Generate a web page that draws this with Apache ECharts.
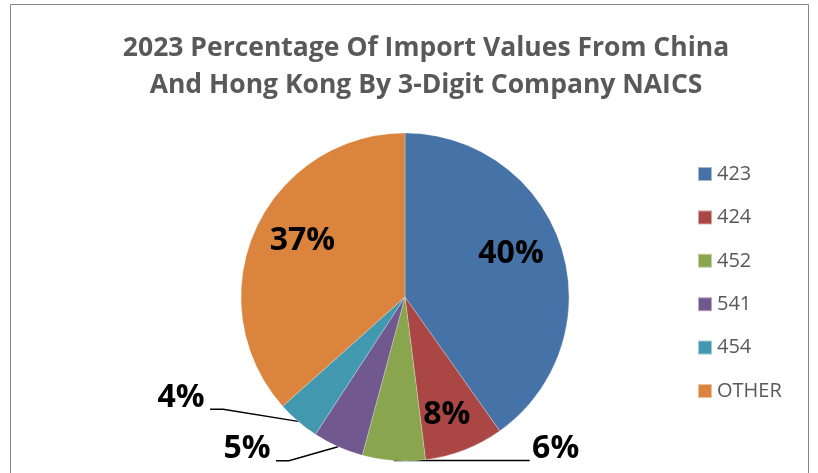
<!DOCTYPE html>
<html lang="en">
<head>
<meta charset="UTF-8" />
<script src="https://cdn.jsdelivr.net/npm/echarts@6/dist/echarts.min.js"></script>
<title>Import values by NAICS</title>
<style>
	html, body { margin: 0; padding: 0; background: #fff; }
	#main { width: 818px; height: 473px; }
</style>
</head>
<body>
<div id="main"></div>
<script type="text/javascript">
	const categories = ['423', '424', '452', '541', '454', 'OTHER'];
	const shares = [40.2, 7.8, 6.2, 5.0, 4.2, 36.6];
	const colors = ['#4572A7', '#AA4643', '#89A54E', '#71588F', '#4198AF', '#DB843D'];
	const titleText = '2023 Percentage Of Import Values From China\nAnd Hong Kong By 3-Digit Company NAICS';

	const CX = 405, CY = 297, R = 164;
	// these three get their label outside, with a leader line
	const outside = ['452', '541', '454'];
	// move inner labels from the default spot to where excel had them
	const innerShift = { '423': [25, -17], '424': [11, 39], 'OTHER': [-25, -21] };
	// leader line bends + label spot, relative to where the line leaves the pie
	const leader = {
		'452': { pts: [[70, 0], [136, 0]], label: [162, -12] },
		'541': { pts: [[-49, 14], [-62, 14]], label: [-91, 2] },
		'454': { pts: [[-75, -12], [-88, -12]], label: [-117, -23] },
	};

	const chart = echarts.init(document.getElementById('main'));
	chart.setOption({
		animation: false,
		color: colors,
		graphic: [
			{
				type: 'rect',
				silent: true,
				shape: { x: 10.5, y: 4.5, width: 798, height: 520 },
				style: { fill: 'none', stroke: '#868686', lineWidth: 1 },
			},
		],
		title: {
			text: titleText,
			left: 421,
			top: 25,
			textAlign: 'center',
			textStyle: {
				fontFamily: 'Open Sans',
				fontWeight: 'bold',
				fontSize: 26.5,
				lineHeight: 37,
				color: '#595959',
			},
		},
		legend: {
			orient: 'vertical',
			left: 697,
			top: 164,
			padding: 0,
			icon: 'rect',
			itemWidth: 14,
			itemHeight: 14,
			itemGap: 23.4,
			data: categories,
			textStyle: { fontFamily: 'Open Sans', fontSize: 20, lineHeight: 20, color: '#595959' },
		},
		series: [
			{
				type: 'pie',
				center: [CX, CY],
				radius: R,
				startAngle: 90,
				clockwise: true,
				avoidLabelOverlap: false,
				percentPrecision: 0,
				itemStyle: { borderColor: 'rgba(255,255,255,0.5)', borderWidth: 0.5 },
				label: {
					formatter: '{d}%',
					fontFamily: 'Open Sans',
					fontWeight: 'bold',
					fontSize: 32,
					color: '#000',
				},
				labelLine: { lineStyle: { color: '#000', width: 1.5 } },
				data: categories.map((c, i) => ({
					name: c,
					value: shares[i],
					label: { position: outside.includes(c) ? 'outside' : 'inside' },
					labelLine: { show: outside.includes(c) },
				})),
				labelLayout: p => {
					const name = categories[p.dataIndex];
					if (innerShift[name]) {
						return { dx: innerShift[name][0], dy: innerShift[name][1] };
					}
					const l = leader[name];
					if (!l || !p.labelLinePoints) return {};
					const s = p.labelLinePoints[0];
					return {
						x: s[0] + l.label[0],
						y: s[1] + l.label[1],
						align: 'center',
						verticalAlign: 'middle',
						labelLinePoints: [
							[s[0], s[1]],
							[s[0] + l.pts[0][0], s[1] + l.pts[0][1]],
							[s[0] + l.pts[1][0], s[1] + l.pts[1][1]],
						],
					};
				},
			},
		],
	});
</script>
</body>
</html>
